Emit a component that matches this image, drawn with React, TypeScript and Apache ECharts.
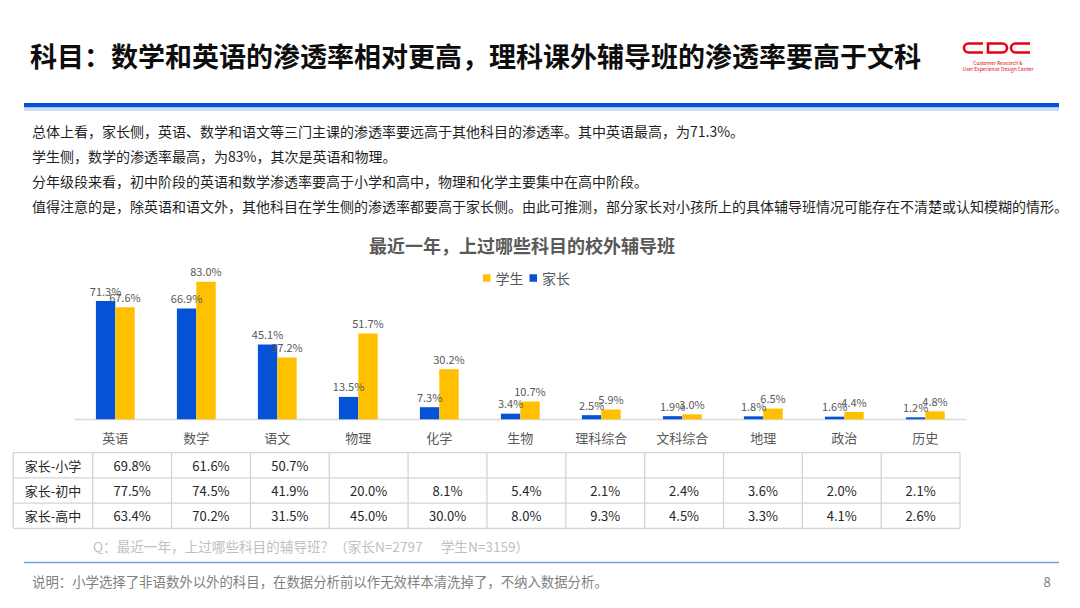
import React, { useEffect, useRef } from "react";
import * as echarts from "echarts";

const categories = ["英语", "数学", "语文", "物理", "化学", "生物", "理科综合", "文科综合", "地理", "政治", "历史"];
const parentValues = [71.3, 66.9, 45.1, 13.5, 7.3, 3.4, 2.5, 1.9, 1.8, 1.6, 1.2];
const studentValues = [67.6, 83.0, 37.2, 51.7, 30.2, 10.7, 5.9, 3.0, 6.5, 4.4, 4.8];

const tableRowNames = ["家长-小学", "家长-初中", "家长-高中"];
const primaryRow: (number | null)[] = [69.8, 61.6, 50.7, null, null, null, null, null, null, null, null];
const middleRow: (number | null)[] = [77.5, 74.5, 41.9, 20.0, 8.1, 5.4, 2.1, 2.4, 3.6, 2.0, 2.1];
const highRow: (number | null)[] = [63.4, 70.2, 31.5, 45.0, 30.0, 8.0, 9.3, 4.5, 3.3, 4.1, 2.6];
const tableRows = [primaryRow, middleRow, highRow];

const pageTitle = "科目：数学和英语的渗透率相对更高，理科课外辅导班的渗透率要高于文科";
const summaryLines = [
  "总体上看，家长侧，英语、数学和语文等三门主课的渗透率要远高于其他科目的渗透率。其中英语最高，为71.3%。",
  "学生侧，数学的渗透率最高，为83%，其次是英语和物理。",
  "分年级段来看，初中阶段的英语和数学渗透率要高于小学和高中，物理和化学主要集中在高中阶段。",
  "值得注意的是，除英语和语文外，其他科目在学生侧的渗透率都要高于家长侧。由此可推测，部分家长对小孩所上的具体辅导班情况可能存在不清楚或认知模糊的情形。",
];
const chartTitle = "最近一年，上过哪些科目的校外辅导班";
const questionText = "Q：最近一年，上过哪些科目的辅导班？（家长N=2797      学生N=3159）";
const noteText = "说明：小学选择了非语数外以外的科目，在数据分析前以作无效样本清洗掉了，不纳入数据分析。";
const pageNumber = "8";

const FONT = '"Noto Sans CJK SC", "Noto Sans", sans-serif';
const BLUE = "#0652d6";
const YELLOW = "#FFC000";
const RED = "#e60012";

echarts.graphic.registerShape(
  "cdcC",
  echarts.graphic.extendPath("M19,0 L4.5,0 A4.5,4.5 0 0 0 4.5,9 L19,9", {})
);
echarts.graphic.registerShape(
  "cdcD",
  echarts.graphic.extendPath("M0,0 L14.5,0 A4.5,4.5 0 0 1 14.5,9 L0,9 Z", {})
);

function txt(text: string, x: number, y: number, opts: any = {}) {
  return {
    type: "text",
    x,
    y,
    silent: true,
    style: {
      text,
      fill: opts.fill || "#262626",
      fontSize: opts.fontSize || 13,
      fontWeight: opts.fontWeight || "normal",
      fontFamily: FONT,
      textAlign: opts.align || "left",
      align: opts.align || "left",
      textVerticalAlign: "middle",
      verticalAlign: "middle",
    },
  };
}

function line(x1: number, y1: number, x2: number, y2: number, stroke: string, lineWidth: number) {
  return {
    type: "line",
    silent: true,
    shape: { x1, y1, x2, y2 },
    style: { stroke, lineWidth },
  };
}

export default function App() {
  const ref = useRef<HTMLDivElement>(null);

  useEffect(() => {
    if (!ref.current) return;
    const chart = echarts.init(ref.current, undefined, { renderer: "svg" });

    const graphics: any[] = [];
    // header
    graphics.push(txt(pageTitle, 30, 55, { fontSize: 27, fontWeight: "bold", fill: "#0d0d0d" }));
    graphics.push({
      type: "rect",
      silent: true,
      shape: { x: 24, y: 103, width: 1035, height: 4.5 },
      style: { fill: "#0652d6" },
    });
    graphics.push({
      type: "rect",
      silent: true,
      shape: { x: 24, y: 107.5, width: 1035, height: 3.5 },
      style: { fill: "#cddcf6" },
    });
    // logo
    const logoStyle = { fill: "none", stroke: RED, lineWidth: 2.6 };
    graphics.push({ type: "cdcC", x: 964, y: 43.5, silent: true, style: logoStyle });
    graphics.push({ type: "cdcD", x: 988, y: 43.5, silent: true, style: logoStyle });
    graphics.push({ type: "cdcC", x: 1011, y: 43.5, silent: true, style: logoStyle });
    graphics.push(txt("Customer Research &", 998, 62.5, { fontSize: 5, fill: RED, align: "center" }));
    graphics.push(txt("User Experience Design Center", 998, 68.5, { fontSize: 5, fill: RED, align: "center" }));

    // summary text
    const lineYs = [130.5, 156, 181, 206];
    summaryLines.forEach((s, i) => graphics.push(txt(s, 32, lineYs[i], { fontSize: 14, fill: "#1f1f1f" })));

    // chart title
    graphics.push(txt(chartTitle, 522, 245, { fontSize: 18, fontWeight: "bold", fill: "#595959", align: "center" }));

    // table
    const tTop = 452.7;
    const rowH = 25.2;
    const tLeft = 13.3;
    const headW = 79.4;
    const colW = 78.85;
    const tRight = tLeft + headW + colW * categories.length;
    const lineColor = "#d4d4d4";
    for (let r = 0; r <= tableRows.length; r++) {
      const y = tTop + r * rowH;
      graphics.push(line(tLeft, y, tRight, y, lineColor, 1.3));
    }
    const tBottom = tTop + rowH * tableRows.length;
    graphics.push(line(tLeft, tTop, tLeft, tBottom, lineColor, 1.3));
    for (let c = 0; c <= categories.length; c++) {
      const x = tLeft + headW + c * colW;
      graphics.push(line(x, tTop, x, tBottom, lineColor, 1.3));
    }
    tableRows.forEach((row, r) => {
      const cy = tTop + (r + 0.5) * rowH;
      graphics.push(txt(tableRowNames[r], tLeft + headW / 2, cy, { fontSize: 13, fill: "#262626", align: "center" }));
      row.forEach((v, c) => {
        if (v === null) return;
        graphics.push(
          txt(v.toFixed(1) + "%", tLeft + headW + (c + 0.5) * colW, cy, { fontSize: 13, fill: "#262626", align: "center" })
        );
      });
    });

    // footer
    graphics.push(txt(questionText, 93, 546, { fontSize: 13.6, fill: "#bfbfbf" }));
    graphics.push(line(24, 562.5, 1059, 562.5, "#6f9bec", 1.6));
    graphics.push(txt(noteText, 32, 581, { fontSize: 13.4, fill: "#7f7f7f" }));
    graphics.push(txt(pageNumber, 1047, 581, { fontSize: 13, fill: "#7f7f7f", align: "center" }));

    const labelCfg = {
      show: true,
      position: "top",
      distance: 5,
      color: "#595959",
      fontSize: 11,
      fontFamily: FONT,
      formatter: (p: any) => Number(p.value).toFixed(1) + "%",
    };

    chart.setOption({
      animation: false,
      backgroundColor: "#ffffff",
      textStyle: { fontFamily: FONT },
      legend: {
        data: ["学生", "家长"],
        left: 478,
        top: 266,
        icon: "rect",
        itemWidth: 7.5,
        itemHeight: 7.5,
        itemGap: 6,
        textStyle: { color: "#595959", fontSize: 14, fontFamily: FONT },
      },
      grid: { left: 74.8, top: 253.5, width: 891, height: 165.8 },
      xAxis: {
        type: "category",
        data: categories,
        axisLine: { lineStyle: { color: "#d9d9d9", width: 1.3 } },
        axisTick: { show: false },
        axisLabel: { color: "#595959", fontSize: 13, margin: 12, fontFamily: FONT, interval: 0 },
      },
      yAxis: {
        type: "value",
        min: 0,
        max: 100,
        show: false,
        splitLine: { show: false },
      },
      series: [
        {
          name: "家长",
          type: "bar",
          data: parentValues,
          barWidth: 19.4,
          barGap: "0%",
          itemStyle: { color: BLUE },
          label: labelCfg,
        },
        {
          name: "学生",
          type: "bar",
          data: studentValues,
          barWidth: 19.4,
          barGap: "0%",
          itemStyle: { color: YELLOW },
          label: labelCfg,
        },
      ],
      graphic: { elements: graphics },
    });

    return () => chart.dispose();
  }, []);

  return (
    <div
      ref={ref}
      style={{ position: "fixed", left: 0, top: 0, width: 1080, height: 608, background: "#fff" }}
    />
  );
}
